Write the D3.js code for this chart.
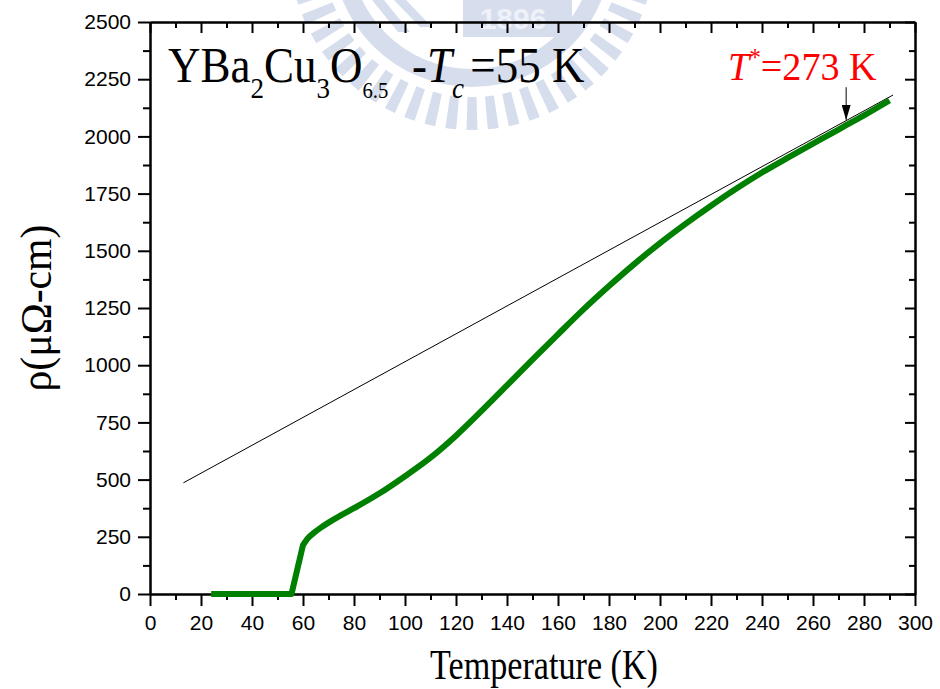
<!DOCTYPE html>
<html>
<head>
<meta charset="utf-8">
<script src="https://cdn.jsdelivr.net/npm/d3@7"></script>
<style>
  html, body { margin: 0; padding: 0; background: #fff; }
  svg { display: block; }
</style>
</head>
<body>
<script>
// Resistivity of YBa2Cu3O6.5 versus temperature.
// Below-transition part (zero resistance and the sharp rise at Tc)
const lowT = [24, 30, 40, 50, 55.5, 60];
const lowRho = [0, 0, 0, 0, 0, 214];
// Normal-state part, from the top of the transition upward
const normT = [60, 62, 64, 67, 70, 75, 80, 90, 100, 110, 120, 130, 140, 150,
               160, 170, 180, 190, 200, 210, 220, 230, 240, 250, 260, 270, 273, 280, 290];
const normRho = [214, 245, 265, 290, 312, 345, 375, 440, 515, 596, 692, 800, 912, 1024,
                 1135, 1244, 1346, 1443, 1534, 1618, 1697, 1772, 1842, 1906, 1968, 2030, 2049, 2092, 2157];

// Linear high-temperature fit
const fitT = [13.1, 291.4];
const fitRho = [486, 2181];

// Pseudogap temperature marker
const tStar = 273;
const tStarArrowRho = [2215, 2072];

// Axis ticks
const xMajorTicks = d3.range(0, 301, 20);
const xMinorTicks = d3.range(10, 300, 20);
const yMajorTicks = d3.range(0, 2501, 250);
const yMinorTicks = d3.range(125, 2500, 250);

const W = 940, H = 689;
const serif = "'Liberation Serif','Times New Roman',Times,serif";
const sans = "'Liberation Sans',Arial,Helvetica,sans-serif";

const svg = d3.select("body").append("svg")
  .attr("width", W).attr("height", H)
  .attr("viewBox", `0 0 ${W} ${H}`);

const x = d3.scaleLinear().domain([0, 300]).range([150, 915]);
const y = d3.scaleLinear().domain([0, 2500]).range([594, 22]);

// ---- faint emblem in the background ----
const emb = svg.append("g").attr("fill", "#d6ddec").attr("transform", "translate(472,-53)");
const nTeeth = 54;
const toothArc = d3.arc().innerRadius(150).outerRadius(183);
for (let i = 0; i < nTeeth; i++) {
  const a = (i / nTeeth) * 2 * Math.PI;
  emb.append("path").attr("d", toothArc({ startAngle: a - 0.03, endAngle: a + 0.03 }));
}
emb.append("path").attr("d", d3.arc().innerRadius(122).outerRadius(140)({ startAngle: 0, endAngle: 2 * Math.PI }));
emb.append("rect").attr("x", -9).attr("y", 53).attr("width", 109).attr("height", 37);
emb.append("text")
  .attr("x", 41).attr("y", 82)
  .attr("text-anchor", "middle")
  .attr("font-family", sans).attr("font-weight", "bold").attr("font-size", 30)
  .attr("fill", "#eef1f8")
  .text("1896");
emb.append("path").attr("d", "M-100,53 L-88,53 L-62,85 L-74,85 Z");
emb.append("path").attr("d", "M-78,53 L-66,53 L-40,80 L-52,80 Z");

// ---- axes ----
function styleAxis(g) {
  g.selectAll("path.domain").attr("stroke", "#000").attr("stroke-width", 2);
  g.selectAll(".tick line").attr("stroke", "#000").attr("stroke-width", 2);
  g.selectAll(".tick text").attr("font-family", sans).attr("font-size", 21).attr("fill", "#000");
}

// bottom
svg.append("g").attr("transform", `translate(0,${y(0)})`)
  .call(d3.axisBottom(x).tickValues(xMinorTicks).tickSize(6).tickSizeOuter(0).tickFormat(""))
  .call(styleAxis);
svg.append("g").attr("transform", `translate(0,${y(0)})`)
  .call(d3.axisBottom(x).tickValues(xMajorTicks).tickSize(12).tickSizeOuter(0).tickPadding(9).tickFormat(d3.format("d")))
  .call(styleAxis);

// left
svg.append("g").attr("transform", `translate(${x(0)},0)`)
  .call(d3.axisLeft(y).tickValues(yMinorTicks).tickSize(7).tickSizeOuter(0).tickFormat(""))
  .call(styleAxis);
svg.append("g").attr("transform", `translate(${x(0)},0)`)
  .call(d3.axisLeft(y).tickValues(yMajorTicks).tickSize(12).tickSizeOuter(0).tickPadding(7).tickFormat(d3.format("d")))
  .call(styleAxis);

// top (ticks inward, no labels)
svg.append("g").attr("transform", `translate(0,${y(2500)})`)
  .call(d3.axisTop(x).tickValues(xMinorTicks).tickSize(-6).tickSizeOuter(0).tickFormat(""))
  .call(styleAxis);
svg.append("g").attr("transform", `translate(0,${y(2500)})`)
  .call(d3.axisTop(x).tickValues(xMajorTicks).tickSize(-11).tickSizeOuter(0).tickFormat(""))
  .call(styleAxis);

// right (ticks inward, no labels)
svg.append("g").attr("transform", `translate(${x(300)},0)`)
  .call(d3.axisRight(y).tickValues(yMinorTicks).tickSize(-6).tickSizeOuter(0).tickFormat(""))
  .call(styleAxis);
svg.append("g").attr("transform", `translate(${x(300)},0)`)
  .call(d3.axisRight(y).tickValues(yMajorTicks).tickSize(-10).tickSizeOuter(0).tickFormat(""))
  .call(styleAxis);

// ---- fit line ----
const fitLine = d3.line().x(d => x(d[0])).y(d => y(d[1]));
svg.append("path")
  .attr("d", fitLine(fitT.map((t, i) => [t, fitRho[i]])))
  .attr("fill", "none").attr("stroke", "#000").attr("stroke-width", 1);

// ---- resistivity curve: straight transition, smooth normal state, one continuous path ----
const lowPath = d3.line().x(d => x(d[0])).y(d => y(d[1])).curve(d3.curveLinear)(lowT.map((t, i) => [t, lowRho[i]]));
const normPath = d3.line().x(d => x(d[0])).y(d => y(d[1])).curve(d3.curveMonotoneX)(normT.map((t, i) => [t, normRho[i]]));
// the smooth part starts where the transition ends, so drop its initial move-to
const joined = lowPath + normPath.replace(/^M[^A-Za-z]*/, "");
svg.append("path")
  .attr("d", joined)
  .attr("fill", "none").attr("stroke", "#008000").attr("stroke-width", 6)
  .attr("stroke-linejoin", "round").attr("stroke-linecap", "butt");

// ---- T* arrow ----
svg.append("defs").append("marker")
  .attr("id", "arrowhead").attr("viewBox", "0 0 15 9")
  .attr("refX", 15).attr("refY", 4.5)
  .attr("markerWidth", 15).attr("markerHeight", 9)
  .attr("markerUnits", "userSpaceOnUse")
  .attr("orient", "auto")
  .append("path").attr("d", "M0,0 L15,4.5 L0,9 Z").attr("fill", "#000");
svg.append("line")
  .attr("x1", x(tStar)).attr("x2", x(tStar))
  .attr("y1", y(tStarArrowRho[0])).attr("y2", y(tStarArrowRho[1]))
  .attr("stroke", "#000").attr("stroke-width", 1)
  .attr("marker-end", "url(#arrowhead)");

// ---- annotations ----
const title = svg.append("g").attr("transform", "translate(168,82) scale(0.9,1)")
  .append("text").attr("font-family", serif).attr("font-size", 50).attr("fill", "#000");
title.append("tspan").text("YBa");
title.append("tspan").attr("font-size", 30).attr("dy", 16).text("2");
title.append("tspan").attr("font-size", 50).attr("dy", -16).text("Cu");
title.append("tspan").attr("font-size", 30).attr("dy", 16).text("3");
title.append("tspan").attr("font-size", 50).attr("dy", -16).text("O");
title.append("tspan").attr("font-size", 23).attr("dy", 16).text("6.5");

const tc = svg.append("g").attr("transform", "translate(412,82) scale(0.9,1)")
  .append("text").attr("font-family", serif).attr("font-size", 50).attr("fill", "#000");
tc.append("tspan").text("-");
tc.append("tspan").attr("font-style", "italic").text("T");
tc.append("tspan").attr("font-style", "italic").attr("font-size", 30).attr("dy", 16).text("c");
tc.append("tspan").attr("font-size", 50).attr("dy", -16).attr("dx", 7).text("=55 K");

const ts = svg.append("g").attr("transform", "translate(728,80) scale(0.93,1)")
  .append("text").attr("font-family", serif).attr("font-size", 41).attr("fill", "#ff0000");
ts.append("tspan").attr("font-style", "italic").text("T");
ts.append("tspan").attr("font-size", 25).attr("dy", -14).text("*");
ts.append("tspan").attr("font-size", 41).attr("dy", 14).text(`=${tStar} K`);

// axis titles
svg.append("text")
  .attr("x", 544).attr("y", 679)
  .attr("text-anchor", "middle")
  .attr("font-family", serif).attr("font-size", 43)
  .attr("textLength", 228).attr("lengthAdjust", "spacingAndGlyphs")
  .text("Temperature (K)");

svg.append("text")
  .attr("transform", "translate(51,308) rotate(-90)")
  .attr("text-anchor", "middle")
  .attr("font-family", serif).attr("font-size", 44)
  .attr("textLength", 167).attr("lengthAdjust", "spacingAndGlyphs")
  .text("ρ(μΩ-cm)");
</script>
</body>
</html>
